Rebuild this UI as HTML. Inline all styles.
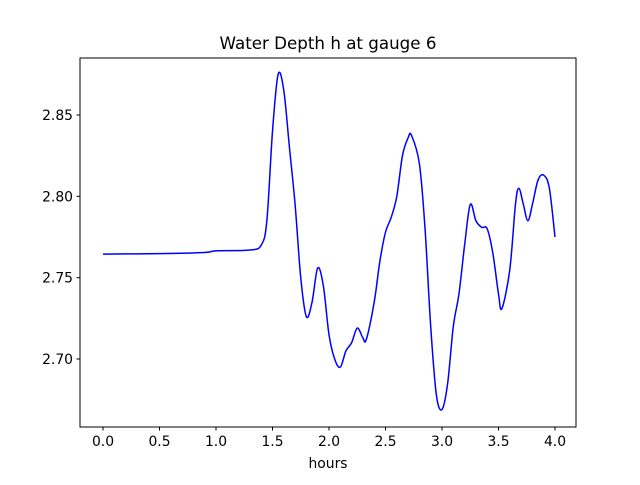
<!DOCTYPE html>
<html><head><meta charset="utf-8"><style>
body{margin:0;background:#fff;font-family:"Liberation Sans","DejaVu Sans",sans-serif;}
text{font-family:"DejaVu Sans","Liberation Sans",sans-serif;font-size:13.9px;fill:#000}
</style></head><body>
<svg id="chart" width="640" height="480">
<rect x="0" y="0" width="640" height="480" fill="#fff"/>
<text x="328" y="49" text-anchor="middle" style="font-size:16.7px">Water Depth h at gauge 6</text>
<g id="axes"></g>
</svg>
<script>
const hours=[0,0.5,0.9,1.0,1.3,1.4,1.45,1.5,1.55,1.6,1.65,1.7,1.75,1.8,1.85,1.9,1.95,2.0,2.05,2.1,2.15,2.2,2.25,2.3,2.33,2.4,2.45,2.5,2.55,2.6,2.65,2.7,2.73,2.8,2.85,2.9,2.95,3.0,3.05,3.1,3.15,3.2,3.25,3.3,3.35,3.4,3.45,3.5,3.53,3.6,3.65,3.68,3.72,3.76,3.8,3.85,3.9,3.95,4.0];
const depth=[2.7645,2.7648,2.7655,2.7665,2.767,2.770,2.785,2.84,2.875,2.865,2.83,2.795,2.75,2.726,2.735,2.756,2.745,2.715,2.700,2.695,2.705,2.710,2.719,2.713,2.712,2.735,2.76,2.778,2.787,2.80,2.825,2.836,2.8375,2.82,2.78,2.72,2.678,2.669,2.685,2.72,2.74,2.77,2.795,2.785,2.781,2.780,2.765,2.74,2.731,2.755,2.795,2.805,2.795,2.785,2.795,2.81,2.813,2.805,2.775];
const xTicks=[0,0.5,1,1.5,2,2.5,3,3.5,4];
const xTickLabels=["0.0","0.5","1.0","1.5","2.0","2.5","3.0","3.5","4.0"];
const yTicks=[2.70,2.75,2.80,2.85];
const yTickLabels=["2.70","2.75","2.80","2.85"];
const L=80,R=576,T=58,B=427;
const xs=h=>103+h*113;
const ys=v=>359-(v-2.70)/0.05*81.33;
const NS="http://www.w3.org/2000/svg";
const g=document.getElementById('axes');
function mk(t,a){const e=document.createElementNS(NS,t);for(const k in a)e.setAttribute(k,a[k]);g.appendChild(e);return e;}
let d="";
for(let i=0;i<hours.length;i++){
  const x=xs(hours[i]),y=ys(depth[i]);
  if(i===0){d+="M"+x+","+y;continue;}
  const p0=[xs(hours[Math.max(i-2,0)]),ys(depth[Math.max(i-2,0)])];
  const p1=[xs(hours[i-1]),ys(depth[i-1])];
  const p2=[x,y];
  const j=Math.min(i+1,hours.length-1);
  const p3=[xs(hours[j]),ys(depth[j])];
  const c1=[p1[0]+(p2[0]-p0[0])/6,p1[1]+(p2[1]-p0[1])/6];
  const c2=[p2[0]-(p3[0]-p1[0])/6,p2[1]-(p3[1]-p1[1])/6];
  d+=" C"+c1+" "+c2+" "+p2;
}
const line=mk('path',{d:d,fill:'none',stroke:'#0000ff','stroke-width':1.5});


const frame=mk('rect',{x:L,y:T,width:R-L,height:B-T,fill:'none',stroke:'#000','stroke-width':1});


xTicks.forEach((t,i)=>{
  const x=xs(t);
  const tk=mk('line',{x1:x,x2:x,y1:B,y2:B+3.5,stroke:'#000'});
  
  
  const lb=mk('text',{x:x,y:B+19,'text-anchor':'middle'});lb.textContent=xTickLabels[i];
  
  
});
yTicks.forEach((t,i)=>{
  const y=ys(t);
  const tk=mk('line',{x1:L-3.5,x2:L,y1:y,y2:y,stroke:'#000'});
  
  
  const lb=mk('text',{x:L-7,y:y+5,'text-anchor':'end'});lb.textContent=yTickLabels[i];
  
  
});
const xt=mk('text',{x:328,y:468,'text-anchor':'middle'});xt.textContent="hours";


</script>
</body></html>
